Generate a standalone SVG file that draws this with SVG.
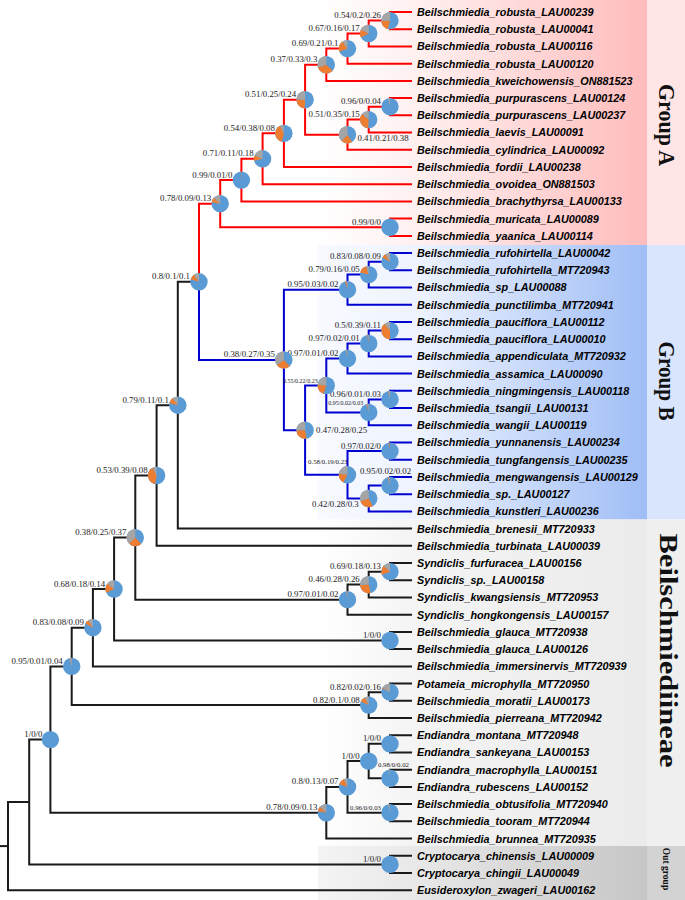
<svg xmlns="http://www.w3.org/2000/svg" width="685" height="900" viewBox="0 0 685 900">
<defs>
<linearGradient id="gA" gradientUnits="userSpaceOnUse" x1="318" y1="0" x2="647" y2="0"><stop offset="0" stop-color="#ffffff"/><stop offset="0.3" stop-color="#fff0f0"/><stop offset="1" stop-color="#ffbcbc"/></linearGradient>
<linearGradient id="gB" gradientUnits="userSpaceOnUse" x1="318" y1="0" x2="647" y2="0"><stop offset="0" stop-color="#f8faff"/><stop offset="0.3" stop-color="#eef3ff"/><stop offset="1" stop-color="#9fbdf6"/></linearGradient>
<linearGradient id="gC" gradientUnits="userSpaceOnUse" x1="318" y1="0" x2="647" y2="0"><stop offset="0" stop-color="#ffffff"/><stop offset="0.3" stop-color="#f4f4f4"/><stop offset="1" stop-color="#ebebeb"/></linearGradient>
<linearGradient id="gD" gradientUnits="userSpaceOnUse" x1="318" y1="0" x2="647" y2="0"><stop offset="0" stop-color="#f4f4f4"/><stop offset="0.3" stop-color="#e8e8e8"/><stop offset="1" stop-color="#c6c6c6"/></linearGradient>
<style>
.ln{fill:none;stroke-width:2;stroke-linejoin:miter;stroke-linecap:butt}
.r{stroke:#ff0000}
.bl{stroke:#0000d0}
.k{stroke:#1a1a1a}
.pb{fill:#5b9bd5}
.po{fill:none;stroke:#ed7d31;stroke-width:8.7}
.pg{fill:none;stroke:#a5a5a5;stroke-width:8.7}
.sv{font-family:"Liberation Serif","Times New Roman",serif;font-size:8.8px;fill:#222}
.s6{font-size:6px}
.s7{font-size:6.8px}
.tx{font-family:"Liberation Sans",Arial,sans-serif;font-size:10.8px;font-weight:bold;font-style:italic;fill:#000}
.grp{font-family:"Liberation Serif","Times New Roman",serif;font-weight:bold;font-size:24px;fill:#111}
</style>
</defs>
<g id="background">
<rect x="318" y="0" width="329" height="245" fill="url(#gA)"/>
<rect x="647" y="0" width="38" height="245" fill="#ffe5e5"/>
<rect x="318" y="245" width="329" height="274.5" fill="url(#gB)"/>
<rect x="647" y="245" width="38" height="274.5" fill="#d8e5fd"/>
<rect x="318" y="519.5" width="329" height="326.5" fill="url(#gC)"/>
<rect x="647" y="519.5" width="38" height="326.5" fill="#efefef"/>
<rect x="318" y="846" width="329" height="54" fill="url(#gD)"/>
<rect x="647" y="846" width="38" height="54" fill="#d3d3d3"/>
</g>
<g id="connectors">
<g class="ln r">
<path d="M412 12H390V29.2H412"/>
<path d="M390 20.6H368.7V46.4H412"/>
<path d="M368.7 33.5H347.5V63.7H412"/>
<path d="M347.5 48.6H326.3V80.9H412"/>
<path d="M412 98.1H390V115.3H412"/>
<path d="M390 106.7H368.7V132.5H412"/>
<path d="M368.7 119.6H347.5V149.8H412"/>
<path d="M326.3 64.75H305.1V134.7H347.5"/>
<path d="M305.1 99.7H283.9V167H412"/>
<path d="M283.9 133.35H262.6V184.2H412"/>
<path d="M262.6 158.8H241.4V201.4H412"/>
<path d="M412 218.6H390V235.9H412"/>
<path d="M241.4 180.1H220.2V227.25H390"/>
<path d="M220.2 203.7H199V281.8"/>
</g>
<g class="ln bl">
<path d="M199 281.8V359.9H283.9"/>
<path d="M412 253.1H390V270.3H412"/>
<path d="M390 261.7H368.7V287.5H412"/>
<path d="M368.7 274.6H347.5V304.7H412"/>
<path d="M412 322H390V339.2H412"/>
<path d="M390 330.6H368.7V356.4H412"/>
<path d="M368.7 343.5H347.5V373.6H412"/>
<path d="M412 390.8H390V408.1H412"/>
<path d="M390 399.45H368.7V425.3H412"/>
<path d="M347.5 358.55H326.3V412.4H368.7"/>
<path d="M412 442.5H390V459.7H412"/>
<path d="M412 476.9H390V494.2H412"/>
<path d="M390 485.55H368.7V511.4H412"/>
<path d="M390 451.1H347.5V498.5H368.7"/>
<path d="M326.3 385.5H305.1V474.8H347.5"/>
<path d="M347.5 289.65H283.9V430.15H305.1"/>
</g>
<g class="ln k">
<path d="M199 281.8H177.8V528.6H412"/>
<path d="M177.8 405.2H156.6V545.8H412"/>
<path d="M412 563H390V580.3H412"/>
<path d="M390 571.65H368.7V597.5H412"/>
<path d="M368.7 584.6H347.5V614.7H412"/>
<path d="M156.6 475.5H135.3V599.65H347.5"/>
<path d="M412 631.9H390V649.1H412"/>
<path d="M135.3 537.6H114.1V640.5H390"/>
<path d="M114.1 589.05H92.9V666.4H412"/>
<path d="M412 683.6H390V700.8H412"/>
<path d="M390 692.2H368.7V718H412"/>
<path d="M92.9 627.7H71.7V705.1H368.7"/>
<path d="M412 735.2H390V752.5H412"/>
<path d="M412 769.7H390V786.9H412"/>
<path d="M390 743.85H368.7V778.3H390"/>
<path d="M412 804.1H390V821.3H412"/>
<path d="M368.7 761.1H347.5V812.7H390"/>
<path d="M347.5 786.9H326.3V838.6H412"/>
<path d="M71.7 666.4H50.4V812.75H326.3"/>
<path d="M412 855.8H390V873H412"/>
<path d="M50.4 739.6H29.2V864.4H390"/>
<path d="M29.2 802H8V890.2H412"/>
<path d="M0 846.1H8"/>
</g>
</g>
<g id="nodes">
<g id="n1" transform="translate(390,20.6)"><circle class="pb" r="8.7"/><circle class="po" r="4.35" pathLength="100" stroke-dasharray="0 54 20 100" transform="rotate(-90)"/><circle class="pg" r="4.35" pathLength="100" stroke-dasharray="0 74 26 100" transform="rotate(-90)"/><text class="sv" x="-9" y="-2.5" text-anchor="end">0.54/0.2/0.26</text></g>
<g id="n2" transform="translate(368.7,33.5)"><circle class="pb" r="8.7"/><circle class="po" r="4.35" pathLength="100" stroke-dasharray="0 67 16 100" transform="rotate(-90)"/><circle class="pg" r="4.35" pathLength="100" stroke-dasharray="0 83 17 100" transform="rotate(-90)"/><text class="sv" x="-9" y="-2.5" text-anchor="end">0.67/0.16/0.17</text></g>
<g id="n3" transform="translate(347.5,48.6)"><circle class="pb" r="8.7"/><circle class="po" r="4.35" pathLength="100" stroke-dasharray="0 69 21 100" transform="rotate(-90)"/><circle class="pg" r="4.35" pathLength="100" stroke-dasharray="0 90 10 100" transform="rotate(-90)"/><text class="sv" x="-9" y="-2.5" text-anchor="end">0.69/0.21/0.1</text></g>
<g id="n4" transform="translate(326.3,64.75)"><circle class="pb" r="8.7"/><circle class="po" r="4.35" pathLength="100" stroke-dasharray="0 37 33 100" transform="rotate(-90)"/><circle class="pg" r="4.35" pathLength="100" stroke-dasharray="0 70 30 100" transform="rotate(-90)"/><text class="sv" x="-9" y="-2.5" text-anchor="end">0.37/0.33/0.3</text></g>
<g id="n5" transform="translate(390,106.7)"><circle class="pb" r="8.7"/><circle class="pg" r="4.35" pathLength="100" stroke-dasharray="0 96 4 100" transform="rotate(-90)"/><text class="sv" x="-9" y="-2.5" text-anchor="end">0.96/0/0.04</text></g>
<g id="n6" transform="translate(368.7,119.6)"><circle class="pb" r="8.7"/><circle class="po" r="4.35" pathLength="100" stroke-dasharray="0 51 35 100" transform="rotate(-90)"/><circle class="pg" r="4.35" pathLength="100" stroke-dasharray="0 86 14 100" transform="rotate(-90)"/><text class="sv" x="-9" y="-2.5" text-anchor="end">0.51/0.35/0.15</text></g>
<g id="n7" transform="translate(347.5,134.7)"><circle class="pb" r="8.7"/><circle class="po" r="4.35" pathLength="100" stroke-dasharray="0 41 21 100" transform="rotate(-90)"/><circle class="pg" r="4.35" pathLength="100" stroke-dasharray="0 62 38 100" transform="rotate(-90)"/><text class="sv" x="10" y="6">0.41/0.21/0.38</text></g>
<g id="n8" transform="translate(305.1,99.7)"><circle class="pb" r="8.7"/><circle class="po" r="4.35" pathLength="100" stroke-dasharray="0 51 25 100" transform="rotate(-90)"/><circle class="pg" r="4.35" pathLength="100" stroke-dasharray="0 76 24 100" transform="rotate(-90)"/><text class="sv" x="-9" y="-2.5" text-anchor="end">0.51/0.25/0.24</text></g>
<g id="n9" transform="translate(283.9,133.35)"><circle class="pb" r="8.7"/><circle class="po" r="4.35" pathLength="100" stroke-dasharray="0 54 38 100" transform="rotate(-90)"/><circle class="pg" r="4.35" pathLength="100" stroke-dasharray="0 92 8 100" transform="rotate(-90)"/><text class="sv" x="-9" y="-2.5" text-anchor="end">0.54/0.38/0.08</text></g>
<g id="n10" transform="translate(262.6,158.8)"><circle class="pb" r="8.7"/><circle class="po" r="4.35" pathLength="100" stroke-dasharray="0 71 11 100" transform="rotate(-90)"/><circle class="pg" r="4.35" pathLength="100" stroke-dasharray="0 82 18 100" transform="rotate(-90)"/><text class="sv" x="-9" y="-2.5" text-anchor="end">0.71/0.11/0.18</text></g>
<g id="n11" transform="translate(241.4,180.1)"><circle class="pb" r="8.7"/><circle class="po" r="4.35" pathLength="100" stroke-dasharray="0 99 1 100" transform="rotate(-90)"/><text class="sv" x="-9" y="-2.5" text-anchor="end">0.99/0.01/0</text></g>
<g id="n12" transform="translate(390,227.25)"><circle class="pb" r="8.7"/><text class="sv" x="-9" y="-2.5" text-anchor="end">0.99/0/0</text></g>
<g id="n13" transform="translate(220.2,203.7)"><circle class="pb" r="8.7"/><circle class="po" r="4.35" pathLength="100" stroke-dasharray="0 78 9 100" transform="rotate(-90)"/><circle class="pg" r="4.35" pathLength="100" stroke-dasharray="0 87 13 100" transform="rotate(-90)"/><text class="sv" x="-9" y="-2.5" text-anchor="end">0.78/0.09/0.13</text></g>
<g id="nAB" transform="translate(199,281.8)"><circle class="pb" r="8.7"/><circle class="po" r="4.35" pathLength="100" stroke-dasharray="0 80 10 100" transform="rotate(-90)"/><circle class="pg" r="4.35" pathLength="100" stroke-dasharray="0 90 10 100" transform="rotate(-90)"/><text class="sv" x="-9" y="-2.5" text-anchor="end">0.8/0.1/0.1</text></g>
<g id="m1" transform="translate(390,261.7)"><circle class="pb" r="8.7"/><circle class="po" r="4.35" pathLength="100" stroke-dasharray="0 83 8 100" transform="rotate(-90)"/><circle class="pg" r="4.35" pathLength="100" stroke-dasharray="0 91 9 100" transform="rotate(-90)"/><text class="sv" x="-9" y="-2.5" text-anchor="end">0.83/0.08/0.09</text></g>
<g id="m2" transform="translate(368.7,274.6)"><circle class="pb" r="8.7"/><circle class="po" r="4.35" pathLength="100" stroke-dasharray="0 79 16 100" transform="rotate(-90)"/><circle class="pg" r="4.35" pathLength="100" stroke-dasharray="0 95 5 100" transform="rotate(-90)"/><text class="sv" x="-9" y="-2.5" text-anchor="end">0.79/0.16/0.05</text></g>
<g id="m3" transform="translate(347.5,289.65)"><circle class="pb" r="8.7"/><circle class="po" r="4.35" pathLength="100" stroke-dasharray="0 95 3 100" transform="rotate(-90)"/><circle class="pg" r="4.35" pathLength="100" stroke-dasharray="0 98 2 100" transform="rotate(-90)"/><text class="sv" x="-9" y="-2.5" text-anchor="end">0.95/0.03/0.02</text></g>
<g id="m4" transform="translate(390,330.6)"><circle class="pb" r="8.7"/><circle class="po" r="4.35" pathLength="100" stroke-dasharray="0 50 39 100" transform="rotate(-90)"/><circle class="pg" r="4.35" pathLength="100" stroke-dasharray="0 89 11 100" transform="rotate(-90)"/><text class="sv" x="-9" y="-2.5" text-anchor="end">0.5/0.39/0.11</text></g>
<g id="m5" transform="translate(368.7,343.5)"><circle class="pb" r="8.7"/><circle class="po" r="4.35" pathLength="100" stroke-dasharray="0 97 2 100" transform="rotate(-90)"/><circle class="pg" r="4.35" pathLength="100" stroke-dasharray="0 99 1 100" transform="rotate(-90)"/><text class="sv" x="-9" y="-2.5" text-anchor="end">0.97/0.02/0.01</text></g>
<g id="m6" transform="translate(347.5,358.55)"><circle class="pb" r="8.7"/><circle class="po" r="4.35" pathLength="100" stroke-dasharray="0 97 1 100" transform="rotate(-90)"/><circle class="pg" r="4.35" pathLength="100" stroke-dasharray="0 98 2 100" transform="rotate(-90)"/><text class="sv" x="-9" y="-2.5" text-anchor="end">0.97/0.01/0.02</text></g>
<g id="m7" transform="translate(390,399.45)"><circle class="pb" r="8.7"/><circle class="po" r="4.35" pathLength="100" stroke-dasharray="0 96 1 100" transform="rotate(-90)"/><circle class="pg" r="4.35" pathLength="100" stroke-dasharray="0 97 3 100" transform="rotate(-90)"/><text class="sv" x="-9" y="-2.5" text-anchor="end">0.96/0.01/0.03</text></g>
<g id="m8" transform="translate(368.7,412.4)"><circle class="pb" r="8.7"/><circle class="po" r="4.35" pathLength="100" stroke-dasharray="0 95 2 100" transform="rotate(-90)"/><circle class="pg" r="4.35" pathLength="100" stroke-dasharray="0 97 3 100" transform="rotate(-90)"/><text class="sv s6" x="-5.5" y="-7.5" text-anchor="end">0.95/0.02/0.03</text></g>
<g id="m9" transform="translate(326.3,385.5)"><circle class="pb" r="8.7"/><circle class="po" r="4.35" pathLength="100" stroke-dasharray="0 55 22 100" transform="rotate(-90)"/><circle class="pg" r="4.35" pathLength="100" stroke-dasharray="0 77 23 100" transform="rotate(-90)"/><text class="sv s6" x="-8.5" y="-2.5" text-anchor="end">0.55/0.22/0.23</text></g>
<g id="m10" transform="translate(390,451.1)"><circle class="pb" r="8.7"/><circle class="po" r="4.35" pathLength="100" stroke-dasharray="0 97 2 100" transform="rotate(-90)"/><text class="sv" x="-9" y="-2.5" text-anchor="end">0.97/0.02/0</text></g>
<g id="m11" transform="translate(390,485.55)"><circle class="pb" r="8.7"/><circle class="po" r="4.35" pathLength="100" stroke-dasharray="0 95 2 100" transform="rotate(-90)"/><circle class="pg" r="4.35" pathLength="100" stroke-dasharray="0 97 2 100" transform="rotate(-90)"/><text class="sv" x="-30" y="-12">0.95/0.02/0.02</text></g>
<g id="m12" transform="translate(368.7,498.5)"><circle class="pb" r="8.7"/><circle class="po" r="4.35" pathLength="100" stroke-dasharray="0 42 28 100" transform="rotate(-90)"/><circle class="pg" r="4.35" pathLength="100" stroke-dasharray="0 70 30 100" transform="rotate(-90)"/><text class="sv" x="-10" y="8" text-anchor="end">0.42/0.28/0.3</text></g>
<g id="m13" transform="translate(347.5,474.8)"><circle class="pb" r="8.7"/><circle class="po" r="4.35" pathLength="100" stroke-dasharray="0 58 19 100" transform="rotate(-90)"/><circle class="pg" r="4.35" pathLength="100" stroke-dasharray="0 77 23 100" transform="rotate(-90)"/><text class="sv s7" x="0" y="-10.5" text-anchor="end">0.58/0.19/0.23</text></g>
<g id="m14" transform="translate(305.1,430.15)"><circle class="pb" r="8.7"/><circle class="po" r="4.35" pathLength="100" stroke-dasharray="0 47 28 100" transform="rotate(-90)"/><circle class="pg" r="4.35" pathLength="100" stroke-dasharray="0 75 25 100" transform="rotate(-90)"/><text class="sv" x="11" y="3">0.47/0.28/0.25</text></g>
<g id="m15" transform="translate(283.9,359.9)"><circle class="pb" r="8.7"/><circle class="po" r="4.35" pathLength="100" stroke-dasharray="0 38 27 100" transform="rotate(-90)"/><circle class="pg" r="4.35" pathLength="100" stroke-dasharray="0 65 35 100" transform="rotate(-90)"/><text class="sv" x="-9" y="-2.5" text-anchor="end">0.38/0.27/0.35</text></g>
<g id="b1" transform="translate(177.8,405.2)"><circle class="pb" r="8.7"/><circle class="po" r="4.35" pathLength="100" stroke-dasharray="0 79 11 100" transform="rotate(-90)"/><circle class="pg" r="4.35" pathLength="100" stroke-dasharray="0 90 10 100" transform="rotate(-90)"/><text class="sv" x="-9" y="-2.5" text-anchor="end">0.79/0.11/0.1</text></g>
<g id="b2" transform="translate(156.6,475.5)"><circle class="pb" r="8.7"/><circle class="po" r="4.35" pathLength="100" stroke-dasharray="0 53 39 100" transform="rotate(-90)"/><circle class="pg" r="4.35" pathLength="100" stroke-dasharray="0 92 8 100" transform="rotate(-90)"/><text class="sv" x="-9" y="-2.5" text-anchor="end">0.53/0.39/0.08</text></g>
<g id="s1" transform="translate(390,571.65)"><circle class="pb" r="8.7"/><circle class="po" r="4.35" pathLength="100" stroke-dasharray="0 69 18 100" transform="rotate(-90)"/><circle class="pg" r="4.35" pathLength="100" stroke-dasharray="0 87 13 100" transform="rotate(-90)"/><text class="sv" x="-9" y="-2.5" text-anchor="end">0.69/0.18/0.13</text></g>
<g id="s2" transform="translate(368.7,584.6)"><circle class="pb" r="8.7"/><circle class="po" r="4.35" pathLength="100" stroke-dasharray="0 46 28 100" transform="rotate(-90)"/><circle class="pg" r="4.35" pathLength="100" stroke-dasharray="0 74 26 100" transform="rotate(-90)"/><text class="sv" x="-9" y="-2.5" text-anchor="end">0.46/0.28/0.26</text></g>
<g id="s3" transform="translate(347.5,599.65)"><circle class="pb" r="8.7"/><circle class="po" r="4.35" pathLength="100" stroke-dasharray="0 97 1 100" transform="rotate(-90)"/><circle class="pg" r="4.35" pathLength="100" stroke-dasharray="0 98 2 100" transform="rotate(-90)"/><text class="sv" x="-9" y="-2.5" text-anchor="end">0.97/0.01/0.02</text></g>
<g id="b3" transform="translate(135.3,537.6)"><circle class="pb" r="8.7"/><circle class="po" r="4.35" pathLength="100" stroke-dasharray="0 38 25 100" transform="rotate(-90)"/><circle class="pg" r="4.35" pathLength="100" stroke-dasharray="0 63 37 100" transform="rotate(-90)"/><text class="sv" x="-9" y="-2.5" text-anchor="end">0.38/0.25/0.37</text></g>
<g id="g1" transform="translate(390,640.5)"><circle class="pb" r="8.7"/><text class="sv" x="-9" y="-2.5" text-anchor="end">1/0/0</text></g>
<g id="b4" transform="translate(114.1,589.05)"><circle class="pb" r="8.7"/><circle class="po" r="4.35" pathLength="100" stroke-dasharray="0 68 18 100" transform="rotate(-90)"/><circle class="pg" r="4.35" pathLength="100" stroke-dasharray="0 86 14 100" transform="rotate(-90)"/><text class="sv" x="-9" y="-2.5" text-anchor="end">0.68/0.18/0.14</text></g>
<g id="b5" transform="translate(92.9,627.7)"><circle class="pb" r="8.7"/><circle class="po" r="4.35" pathLength="100" stroke-dasharray="0 83 8 100" transform="rotate(-90)"/><circle class="pg" r="4.35" pathLength="100" stroke-dasharray="0 91 9 100" transform="rotate(-90)"/><text class="sv" x="-9" y="-2.5" text-anchor="end">0.83/0.08/0.09</text></g>
<g id="p1" transform="translate(390,692.2)"><circle class="pb" r="8.7"/><circle class="po" r="4.35" pathLength="100" stroke-dasharray="0 82 2 100" transform="rotate(-90)"/><circle class="pg" r="4.35" pathLength="100" stroke-dasharray="0 84 16 100" transform="rotate(-90)"/><text class="sv" x="-9" y="-2.5" text-anchor="end">0.82/0.02/0.16</text></g>
<g id="p2" transform="translate(368.7,705.1)"><circle class="pb" r="8.7"/><circle class="po" r="4.35" pathLength="100" stroke-dasharray="0 82 10 100" transform="rotate(-90)"/><circle class="pg" r="4.35" pathLength="100" stroke-dasharray="0 92 8 100" transform="rotate(-90)"/><text class="sv" x="-9" y="-2.5" text-anchor="end">0.82/0.1/0.08</text></g>
<g id="b6" transform="translate(71.7,666.4)"><circle class="pb" r="8.7"/><circle class="po" r="4.35" pathLength="100" stroke-dasharray="0 95 1 100" transform="rotate(-90)"/><circle class="pg" r="4.35" pathLength="100" stroke-dasharray="0 96 4 100" transform="rotate(-90)"/><text class="sv" x="-9" y="-2.5" text-anchor="end">0.95/0.01/0.04</text></g>
<g id="e1" transform="translate(390,743.85)"><circle class="pb" r="8.7"/><text class="sv" x="-9" y="-2.5" text-anchor="end">1/0/0</text></g>
<g id="e2" transform="translate(390,778.3)"><circle class="pb" r="8.7"/><circle class="pg" r="4.35" pathLength="100" stroke-dasharray="0 98 2 100" transform="rotate(-90)"/><text class="sv s7" x="-12" y="-11">0.98/0/0.02</text></g>
<g id="e3" transform="translate(368.7,761.1)"><circle class="pb" r="8.7"/><text class="sv" x="-9" y="-2.5" text-anchor="end">1/0/0</text></g>
<g id="e4" transform="translate(390,812.7)"><circle class="pb" r="8.7"/><circle class="pg" r="4.35" pathLength="100" stroke-dasharray="0 96 3 100" transform="rotate(-90)"/><text class="sv s7" x="-9" y="-3" text-anchor="end">0.96/0/0.03</text></g>
<g id="e5" transform="translate(347.5,786.9)"><circle class="pb" r="8.7"/><circle class="po" r="4.35" pathLength="100" stroke-dasharray="0 80 13 100" transform="rotate(-90)"/><circle class="pg" r="4.35" pathLength="100" stroke-dasharray="0 93 7 100" transform="rotate(-90)"/><text class="sv" x="-9" y="-2.5" text-anchor="end">0.8/0.13/0.07</text></g>
<g id="e6" transform="translate(326.3,812.75)"><circle class="pb" r="8.7"/><circle class="po" r="4.35" pathLength="100" stroke-dasharray="0 78 9 100" transform="rotate(-90)"/><circle class="pg" r="4.35" pathLength="100" stroke-dasharray="0 87 13 100" transform="rotate(-90)"/><text class="sv" x="-9" y="-2.5" text-anchor="end">0.78/0.09/0.13</text></g>
<g id="b7" transform="translate(50.4,739.6)"><circle class="pb" r="8.7"/><text class="sv" x="-8" y="-2.5" text-anchor="end">1/0/0</text></g>
<g id="c1" transform="translate(390,864.4)"><circle class="pb" r="8.7"/><text class="sv" x="-9" y="-2.5" text-anchor="end">1/0/0</text></g>
</g>
<g id="tips" class="tx">
<g id="t1"><text x="417" y="15.9">Beilschmiedia_robusta_LAU00239</text></g>
<g id="t2"><text x="417" y="33.1">Beilschmiedia_robusta_LAU00041</text></g>
<g id="t3"><text x="417" y="50.3">Beilschmiedia_robusta_LAU00116</text></g>
<g id="t4"><text x="417" y="67.6">Beilschmiedia_robusta_LAU00120</text></g>
<g id="t5"><text x="417" y="84.8">Beilschmiedia_kweichowensis_ON881523</text></g>
<g id="t6"><text x="417" y="102">Beilschmiedia_purpurascens_LAU00124</text></g>
<g id="t7"><text x="417" y="119.2">Beilschmiedia_purpurascens_LAU00237</text></g>
<g id="t8"><text x="417" y="136.4">Beilschmiedia_laevis_LAU00091</text></g>
<g id="t9"><text x="417" y="153.7">Beilschmiedia_cylindrica_LAU00092</text></g>
<g id="t10"><text x="417" y="170.9">Beilschmiedia_fordii_LAU00238</text></g>
<g id="t11"><text x="417" y="188.1">Beilschmiedia_ovoidea_ON881503</text></g>
<g id="t12"><text x="417" y="205.3">Beilschmiedia_brachythyrsa_LAU00133</text></g>
<g id="t13"><text x="417" y="222.5">Beilschmiedia_muricata_LAU00089</text></g>
<g id="t14"><text x="417" y="239.8">Beilschmiedia_yaanica_LAU00114</text></g>
<g id="t15"><text x="417" y="257">Beilschmiedia_rufohirtella_LAU00042</text></g>
<g id="t16"><text x="417" y="274.2">Beilschmiedia_rufohirtella_MT720943</text></g>
<g id="t17"><text x="417" y="291.4">Beilschmiedia_sp_LAU00088</text></g>
<g id="t18"><text x="417" y="308.6">Beilschmiedia_punctilimba_MT720941</text></g>
<g id="t19"><text x="417" y="325.9">Beilschmiedia_pauciflora_LAU00112</text></g>
<g id="t20"><text x="417" y="343.1">Beilschmiedia_pauciflora_LAU00010</text></g>
<g id="t21"><text x="417" y="360.3">Beilschmiedia_appendiculata_MT720932</text></g>
<g id="t22"><text x="417" y="377.5">Beilschmiedia_assamica_LAU00090</text></g>
<g id="t23"><text x="417" y="394.7">Beilschmiedia_ningmingensis_LAU00118</text></g>
<g id="t24"><text x="417" y="412">Beilschmiedia_tsangii_LAU00131</text></g>
<g id="t25"><text x="417" y="429.2">Beilschmiedia_wangii_LAU00119</text></g>
<g id="t26"><text x="417" y="446.4">Beilschmiedia_yunnanensis_LAU00234</text></g>
<g id="t27"><text x="417" y="463.6">Beilschmiedia_tungfangensis_LAU00235</text></g>
<g id="t28"><text x="417" y="480.8">Beilschmiedia_mengwangensis_LAU00129</text></g>
<g id="t29"><text x="417" y="498.1">Beilschmiedia_sp._LAU00127</text></g>
<g id="t30"><text x="417" y="515.3">Beilschmiedia_kunstleri_LAU00236</text></g>
<g id="t31"><text x="417" y="532.5">Beilschmiedia_brenesii_MT720933</text></g>
<g id="t32"><text x="417" y="549.7">Beilschmiedia_turbinata_LAU00039</text></g>
<g id="t33"><text x="417" y="566.9">Syndiclis_furfuracea_LAU00156</text></g>
<g id="t34"><text x="417" y="584.2">Syndiclis_sp._LAU00158</text></g>
<g id="t35"><text x="417" y="601.4">Syndiclis_kwangsiensis_MT720953</text></g>
<g id="t36"><text x="417" y="618.6">Syndiclis_hongkongensis_LAU00157</text></g>
<g id="t37"><text x="417" y="635.8">Beilschmiedia_glauca_MT720938</text></g>
<g id="t38"><text x="417" y="653">Beilschmiedia_glauca_LAU00126</text></g>
<g id="t39"><text x="417" y="670.3">Beilschmiedia_immersinervis_MT720939</text></g>
<g id="t40"><text x="417" y="687.5">Potameia_microphylla_MT720950</text></g>
<g id="t41"><text x="417" y="704.7">Beilschmiedia_moratii_LAU00173</text></g>
<g id="t42"><text x="417" y="721.9">Beilschmiedia_pierreana_MT720942</text></g>
<g id="t43"><text x="417" y="739.1">Endiandra_montana_MT720948</text></g>
<g id="t44"><text x="417" y="756.4">Endiandra_sankeyana_LAU00153</text></g>
<g id="t45"><text x="417" y="773.6">Endiandra_macrophylla_LAU00151</text></g>
<g id="t46"><text x="417" y="790.8">Endiandra_rubescens_LAU00152</text></g>
<g id="t47"><text x="417" y="808">Beilschmiedia_obtusifolia_MT720940</text></g>
<g id="t48"><text x="417" y="825.2">Beilschmiedia_tooram_MT720944</text></g>
<g id="t49"><text x="417" y="842.5">Beilschmiedia_brunnea_MT720935</text></g>
<g id="t50"><text x="417" y="859.7">Cryptocarya_chinensis_LAU00009</text></g>
<g id="t51"><text x="417" y="876.9">Cryptocarya_chingii_LAU00049</text></g>
<g id="t52"><text x="417" y="894.1">Eusideroxylon_zwageri_LAU00162</text></g>
</g>
<g id="groups" class="grp">
<g id="grpA"><text transform="translate(659,125) rotate(90)" text-anchor="middle" textLength="82" lengthAdjust="spacingAndGlyphs">Group A</text></g>
<g id="grpB"><text transform="translate(659,381) rotate(90)" text-anchor="middle" textLength="79" lengthAdjust="spacingAndGlyphs">Group B</text></g>
<g id="grpC"><text transform="translate(660,650.5) rotate(90)" text-anchor="middle" textLength="234" lengthAdjust="spacingAndGlyphs" style="font-size:25px">Beilschmiediineae</text></g>
<g id="grpD"><text transform="translate(663,869) rotate(90)" text-anchor="middle" style="font-size:9.5px">Out group</text></g>
</g>
</svg>
